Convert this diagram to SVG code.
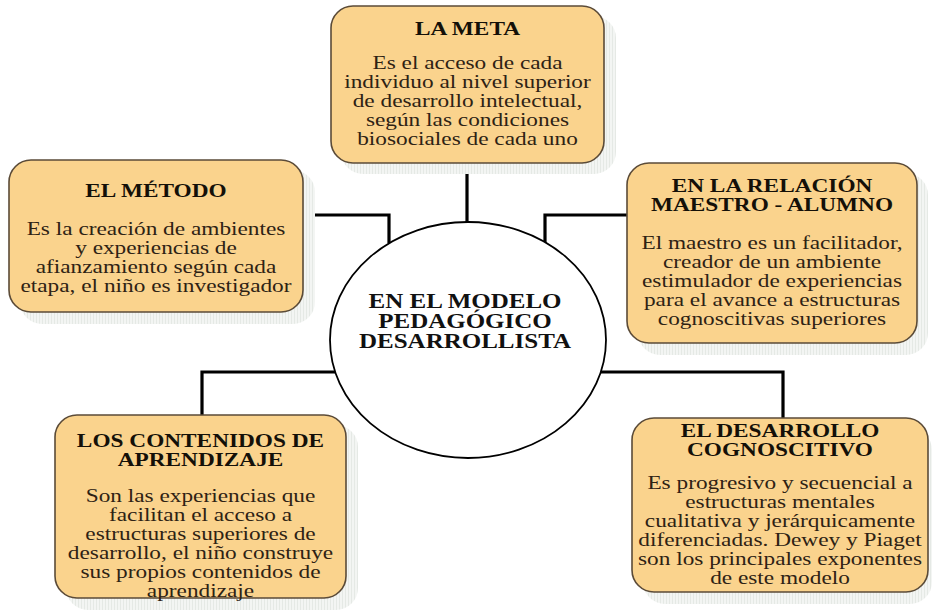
<svg xmlns="http://www.w3.org/2000/svg" width="932" height="610" viewBox="0 0 932 610">
<defs>
<pattern id="hatch" width="3" height="3" patternUnits="userSpaceOnUse">
<rect width="3" height="3" fill="#f3f5f3"/>
<rect width="1" height="3" fill="#e5e9e5"/>
</pattern>
</defs>
<style>
.shadow{fill:url(#hatch);}
.box{fill:#fad38d;stroke:#5b4b38;stroke-width:1.6;}
.t{font-family:"Liberation Serif","Times New Roman",serif;font-size:18.5px;font-weight:bold;fill:#141008;text-anchor:middle;}
.b{font-family:"Liberation Serif","Times New Roman",serif;font-size:18.5px;fill:#2e2214;text-anchor:middle;}
.c{font-family:"Liberation Serif","Times New Roman",serif;font-size:20px;font-weight:bold;fill:#111;text-anchor:middle;}
.con{fill:none;stroke:#000;stroke-width:3.2;}
</style>
<rect width="932" height="610" fill="#ffffff"/>
<g id="connectors">
<path class="con" d="M467 163 V223"/>
<path class="con" d="M303 215 H389 V243"/>
<path class="con" d="M545 243 V215 H627"/>
<path class="con" d="M337 372 H202 V415"/>
<path class="con" d="M600 372 H783 V418"/>
</g>
<g id="meta">
<rect class="shadow" x="341" y="16" width="275" height="158" rx="22"/>
<rect class="box" x="331" y="6" width="273" height="157" rx="22"/>
<g transform="translate(467.5 0) scale(1.26 1)">
<text class="t" x="0" y="35">LA META</text>
<text class="b" x="0" y="69">Es el acceso de cada</text>
<text class="b" x="0" y="88">individuo al nivel superior</text>
<text class="b" x="0" y="107">de desarrollo intelectual,</text>
<text class="b" x="0" y="126">según las condiciones</text>
<text class="b" x="0" y="145">biosociales de cada uno</text>
</g>
</g>
<g id="metodo">
<rect class="shadow" x="20" y="170" width="295" height="154" rx="22"/>
<rect class="box" x="9" y="160" width="294" height="152" rx="22"/>
<g transform="translate(156 0) scale(1.26 1)">
<text class="t" x="0" y="197">EL MÉTODO</text>
<text class="b" x="0" y="235">Es la creación de ambientes</text>
<text class="b" x="0" y="254">y experiencias de</text>
<text class="b" x="0" y="273">afianzamiento según cada</text>
<text class="b" x="0" y="292">etapa, el niño es investigador</text>
</g>
</g>
<g id="relacion">
<rect class="shadow" x="638" y="173" width="290" height="182" rx="22"/>
<rect class="box" x="627" y="163" width="290" height="180" rx="22"/>
<g transform="translate(772 0) scale(1.26 1)">
<text class="t" x="0" y="192">EN LA RELACIÓN</text>
<text class="t" x="0" y="211">MAESTRO - ALUMNO</text>
<text class="b" x="0" y="249">El maestro es un facilitador,</text>
<text class="b" x="0" y="268">creador de un ambiente</text>
<text class="b" x="0" y="287">estimulador de experiencias</text>
<text class="b" x="0" y="306">para el avance a estructuras</text>
<text class="b" x="0" y="325">cognoscitivas superiores</text>
</g>
</g>
<g id="centro">
<ellipse cx="468" cy="340" rx="138" ry="118" fill="#ffffff" stroke="#000" stroke-width="1.8"/>
<g transform="translate(465 0) scale(1.25 1)">
<text class="c" x="0" y="308">EN EL MODELO</text>
<text class="c" x="0" y="328">PEDAGÓGICO</text>
<text class="c" x="0" y="348">DESARROLLISTA</text>
</g>
</g>
<g id="contenidos">
<rect class="shadow" x="66" y="425" width="292" height="185" rx="22"/>
<rect class="box" x="55" y="415" width="291" height="183" rx="22"/>
<g transform="translate(200.5 0) scale(1.26 1)">
<text class="t" x="0" y="447">LOS CONTENIDOS DE</text>
<text class="t" x="0" y="466">APRENDIZAJE</text>
<text class="b" x="0" y="502">Son las experiencias que</text>
<text class="b" x="0" y="521">facilitan el acceso a</text>
<text class="b" x="0" y="540">estructuras superiores de</text>
<text class="b" x="0" y="559">desarrollo, el niño construye</text>
<text class="b" x="0" y="578">sus propios contenidos de</text>
<text class="b" x="0" y="597">aprendizaje</text>
</g>
</g>
<g id="desarrollo">
<rect class="shadow" x="643" y="428" width="289" height="176" rx="22"/>
<rect class="box" x="632" y="418" width="296" height="174" rx="22"/>
<g transform="translate(780 0) scale(1.26 1)">
<text class="t" x="0" y="437">EL DESARROLLO</text>
<text class="t" x="0" y="456">COGNOSCITIVO</text>
<text class="b" x="0" y="489">Es progresivo y secuencial a</text>
<text class="b" x="0" y="508">estructuras mentales</text>
<text class="b" x="0" y="527">cualitativa y jerárquicamente</text>
<text class="b" x="0" y="546">diferenciadas. Dewey y Piaget</text>
<text class="b" x="0" y="565">son los principales exponentes</text>
<text class="b" x="0" y="584">de este modelo</text>
</g>
</g>
</svg>
